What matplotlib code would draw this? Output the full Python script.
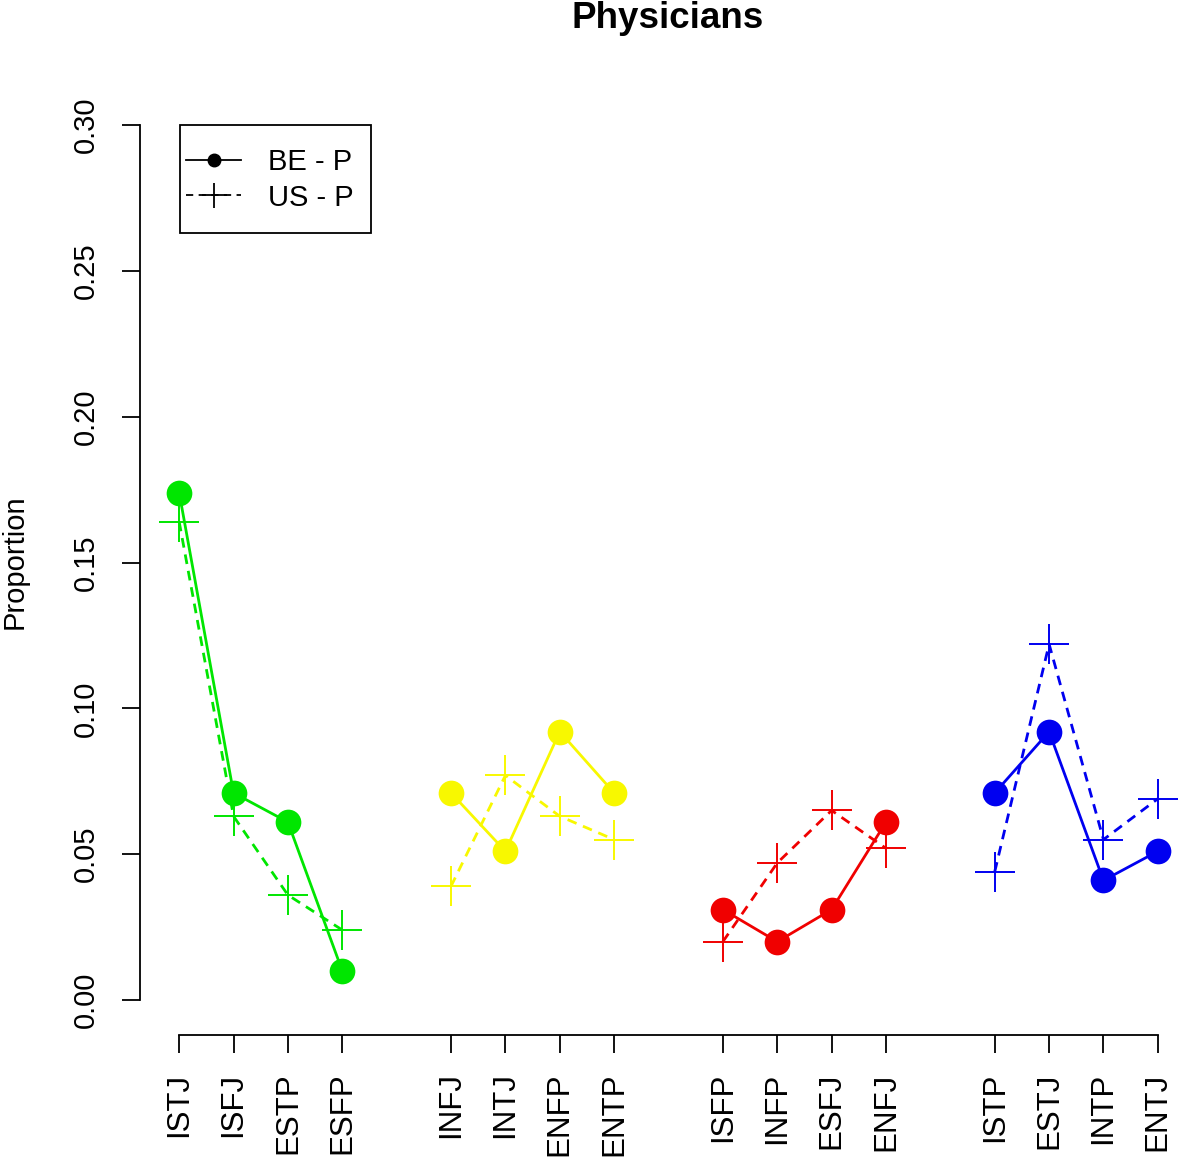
import matplotlib
matplotlib.use("Agg")
import matplotlib.pyplot as plt
from matplotlib.lines import Line2D
from matplotlib.patches import Rectangle

plt.rcParams['font.family'] = ['Liberation Sans', 'DejaVu Sans']

types = ["ISTJ", "ISFJ", "ESTP", "ESFP",
         "INFJ", "INTJ", "ENFP", "ENTP",
         "ISFP", "INFP", "ESFJ", "ENFJ",
         "ISTP", "ESTJ", "INTP", "ENTJ"]
positions = [1, 2, 3, 4, 6, 7, 8, 9, 11, 12, 13, 14, 16, 17, 18, 19]
be_p = [0.174, 0.071, 0.061, 0.010,
        0.071, 0.051, 0.092, 0.071,
        0.031, 0.020, 0.031, 0.061,
        0.071, 0.092, 0.041, 0.051]
us_p = [0.164, 0.063, 0.036, 0.024,
        0.039, 0.077, 0.063, 0.055,
        0.020, 0.047, 0.065, 0.052,
        0.044, 0.122, 0.055, 0.069]
group_colors = ["#00E600", "#F8F800", "#F00000", "#0000F0"]

W, H = 1181, 1157
fig = plt.figure(figsize=(W / 100, H / 100), dpi=100)
ax = fig.add_axes([140 / W, 1 - 1035 / H, (1197 - 140) / W, (1035 - 90) / H])

for g, col in enumerate(group_colors):
    sl = slice(4 * g, 4 * g + 4)
    xs = positions[sl]
    ax.plot(xs, us_p[sl], color=col, lw=2.0, ls=(0, (3.5, 2.5)), marker='+',
            markersize=29, markeredgewidth=1.4, zorder=2)
    ax.plot(xs, be_p[sl], color=col, lw=2.0, ls='-', marker='o',
            markersize=18.5, markeredgewidth=0, zorder=3)

ax.set_xlim(0.28, 19.72)
ax.set_ylim(-0.012, 0.312)
for s in ['top', 'right']:
    ax.spines[s].set_visible(False)
ax.spines['left'].set_bounds(0, 0.30)
ax.spines['bottom'].set_bounds(1, 19)
for s in ['left', 'bottom']:
    ax.spines[s].set_linewidth(1.3)

ax.set_yticks([0.00, 0.05, 0.10, 0.15, 0.20, 0.25, 0.30])
ax.set_yticklabels(["0.00", "0.05", "0.10", "0.15", "0.20", "0.25", "0.30"],
                   rotation=90, va='center', fontsize=21)
ax.set_xticks(positions)
ax.set_xticklabels(types, rotation=90, fontsize=22.5)
ax.tick_params(axis='both', length=13, width=1.3, direction='out')
ax.tick_params(axis='y', pad=16)
ax.tick_params(axis='x', pad=14)

fig.text(15 / W, 1 - 562 / H, "Proportion", rotation=90, fontsize=21,
         ha='center', va='center')
fig.text(668 / W, 1 - 28 / H, "Physicians", fontsize=26.5, fontweight='bold',
         ha='center', va='baseline')

handles = [
    Line2D([], [], color='black', lw=1.3, ls='-', marker='o', markersize=9),
    Line2D([], [], color='black', lw=1.3, ls=(0, (4, 3)), marker='+',
           markersize=18, markeredgewidth=1.3),
]
leg = fig.legend(handles, ["BE - P", "US - P"], loc='center left',
                 bbox_to_anchor=(186 / W, 1 - 180 / H),
                 fontsize=21, frameon=False, handlelength=1.9,
                 handletextpad=0.9, borderpad=0, labelspacing=0.25,
                 borderaxespad=0)
fig.add_artist(Rectangle((180 / W, 1 - 233 / H), (371 - 180) / W,
                         (233 - 125) / H, transform=fig.transFigure,
                         fill=False, edgecolor='black', lw=1.3))

fig.savefig("out.png", dpi=100)
